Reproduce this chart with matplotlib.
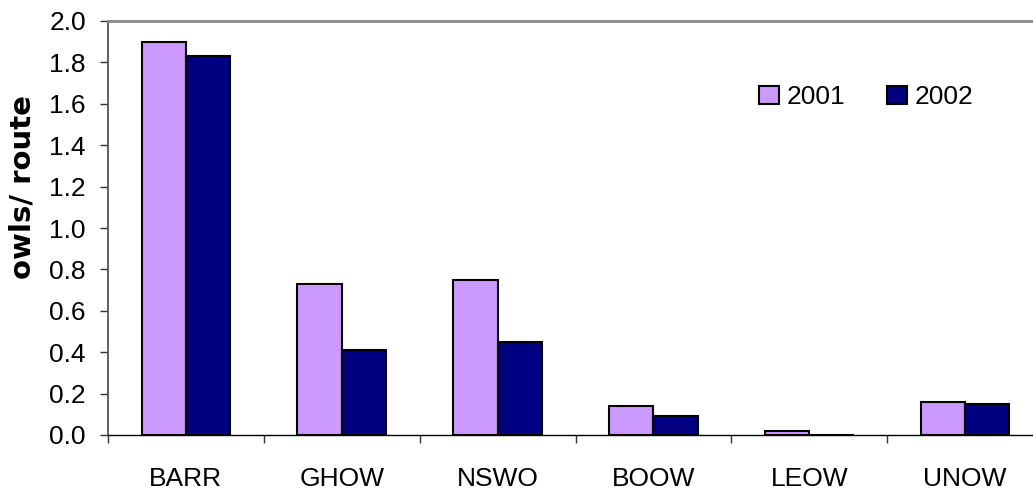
import matplotlib
matplotlib.use("Agg")
import matplotlib.pyplot as plt
import numpy as np

categories = ["BARR", "GHOW", "NSWO", "BOOW", "LEOW", "UNOW"]
years = ["2001", "2002"]
values_2001 = [1.90, 0.73, 0.75, 0.14, 0.02, 0.16]
values_2002 = [1.83, 0.41, 0.45, 0.09, 0.00, 0.15]
y_ticks = [0.0, 0.2, 0.4, 0.6, 0.8, 1.0, 1.2, 1.4, 1.6, 1.8, 2.0]

plt.rcParams['font.family'] = ['Liberation Sans', 'DejaVu Sans']

W, H = 1033, 495
fig = plt.figure(figsize=(W / 100, H / 100), dpi=100)
ax = fig.add_axes([108 / W, 1 - 435 / H, (1043 - 108) / W, (435 - 21) / H])

x = np.arange(len(categories))
bw = 0.285
ax.bar(x - bw / 2, values_2001, width=bw, color="#CC99FF", edgecolor="black",
       linewidth=1.5, label=years[0], zorder=3)
ax.bar(x + bw / 2, values_2002, width=bw, color="#000080", edgecolor="black",
       linewidth=1.5, label=years[1], zorder=3)

ax.set_xlim(-0.5, len(categories) - 0.5)
ax.set_ylim(0, 2.0)
ax.set_yticks(y_ticks)
ax.set_yticklabels([f"{v:.1f}" for v in y_ticks], fontsize=19)
ax.tick_params(axis='y', direction='out', length=6, width=1, color='#333333', pad=10)

ax.set_xticks(x)
ax.set_xticklabels(categories, fontsize=19)
ax.tick_params(axis='x', which='major', length=0, pad=23)
ax.set_xticks(np.arange(-0.5, len(categories), 1.0), minor=True)
ax.tick_params(axis='x', which='minor', direction='out', length=6, width=1, color='#333333')

ax.spines['top'].set_color('#888888')
ax.spines['top'].set_linewidth(2)
ax.spines['right'].set_color('#888888')
ax.spines['left'].set_color('#555555')
ax.spines['left'].set_linewidth(1.3)
ax.spines['bottom'].set_color('black')
ax.spines['bottom'].set_linewidth(1)

ax.set_ylabel("owls/ route", fontsize=21, fontweight='bold',
              family=['DejaVu Sans'])
ax.yaxis.set_label_coords(-(108 - 37) / (1043 - 108), (435 - 187) / 414)

leg = fig.legend(loc='center left', bbox_to_anchor=(759 / W, 1 - 97 / H), ncol=2,
                 frameon=False, fontsize=19, handlelength=0.76, handleheight=0.65,
                 handletextpad=0.27, columnspacing=1.6, borderpad=0, borderaxespad=0)

fig.savefig("out.png", dpi=100)
